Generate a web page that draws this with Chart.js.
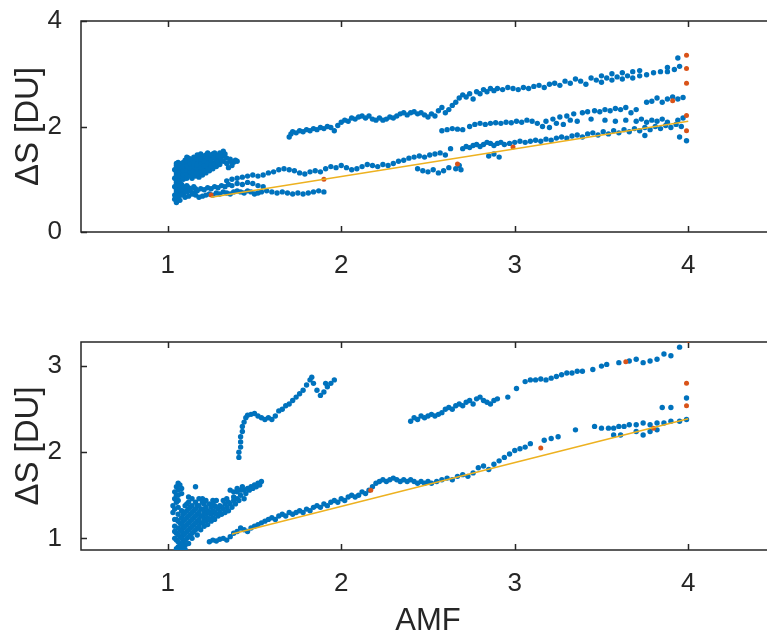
<!DOCTYPE html>
<html lang="en">
<head>
  <meta charset="UTF-8" />
  <title>Slant column difference vs AMF</title>
  <script src="https://cdn.jsdelivr.net/npm/chart.js"></script>
  <style>
    html, body { margin: 0; padding: 0; background: #fff; overflow: hidden; width: 767px; height: 637px; }
    .panel { position: absolute; left: 0; width: 800px; }
    #topPanel { top: 0; height: 300px; }
    #bottomPanel { top: 320px; height: 317px; }
  </style>
</head>
<body>
  <div class="panel" id="topPanel"><canvas id="topChart"></canvas></div>
  <div class="panel" id="bottomPanel"><canvas id="bottomChart"></canvas></div>

  <script>
    // ---- axis ticks ----
    const amfTicks = [1, 2, 3, 4];
    const topYTicks = [0, 2, 4];
    const bottomYTicks = [1, 2, 3];

    // ---- upper panel: [AMF, dS] ----
    const topCluster = [
      [1.04,0.62],[1.05,0.56],[1.04,0.70],[1.05,0.78],[1.04,0.86],[1.05,0.94],[1.04,1.02],[1.05,1.10],[1.04,1.18],[1.05,1.26],
      [1.06,1.32],[1.06,0.66],[1.06,0.84],[1.07,1.00],[1.07,1.16],[1.08,0.74],[1.08,0.90],[1.08,1.06],[1.08,1.22],[1.08,1.30],
      [1.10,0.80],[1.10,1.04],[1.10,1.12],[1.10,1.20],[1.10,1.28],[1.10,1.36],[1.12,0.84],[1.12,1.08],[1.12,1.16],[1.12,1.24],
      [1.12,1.32],[1.12,1.40],[1.14,1.02],[1.14,1.12],[1.14,1.20],[1.14,1.28],[1.14,1.36],[1.16,0.82],[1.16,1.06],[1.16,1.14],
      [1.16,1.22],[1.16,1.30],[1.16,1.40],[1.18,1.04],[1.18,1.10],[1.18,1.18],[1.18,1.26],[1.18,1.34],[1.18,1.44],[1.20,1.08],
      [1.20,1.16],[1.20,1.24],[1.20,1.32],[1.20,1.42],[1.22,1.12],[1.22,1.20],[1.22,1.28],[1.22,1.38],[1.22,1.46],[1.24,1.16],
      [1.24,1.24],[1.24,1.34],[1.24,1.44],[1.26,1.20],[1.26,1.30],[1.26,1.40],[1.26,1.48],[1.28,1.24],[1.28,1.36],[1.28,1.46],
      [1.30,1.28],[1.30,1.40],[1.30,1.50],[1.32,1.34],[1.32,1.44],[1.32,1.53],[1.34,1.30],[1.34,1.40],[1.36,1.34],[1.38,1.32],
      [1.40,1.34],[1.35,1.22],[1.37,1.26],
      [1.05,0.66],[1.05,0.74],[1.05,0.82],[1.05,0.90],[1.05,0.98],[1.05,1.06],[1.05,1.14],[1.05,1.22],[1.05,1.30],
      [1.07,0.60],[1.07,0.70],[1.07,0.80],[1.07,0.88],[1.07,0.96],[1.07,1.06],[1.07,1.12],[1.07,1.22],[1.07,1.28],
      [1.09,0.78],[1.09,0.86],[1.09,1.00],[1.09,1.08],[1.09,1.16],[1.09,1.24],[1.09,1.32],
      [1.11,0.80],[1.11,0.88],[1.11,1.02],[1.11,1.10],[1.11,1.18],[1.11,1.26],[1.11,1.34],[1.11,1.42],
      [1.13,0.82],[1.13,1.06],[1.13,1.14],[1.13,1.22],[1.13,1.30],[1.13,1.38],
      [1.15,0.86],[1.15,1.08],[1.15,1.16],[1.15,1.24],[1.15,1.32],[1.15,1.42],
      [1.17,1.12],[1.17,1.20],[1.17,1.28],[1.17,1.38],[1.17,1.46],
      [1.19,1.14],[1.19,1.22],[1.19,1.30],[1.19,1.38],[1.19,1.48],
      [1.21,1.16],[1.21,1.26],[1.21,1.34],[1.21,1.44],[1.23,1.20],[1.23,1.30],[1.23,1.40],[1.23,1.50],
      [1.25,1.26],[1.25,1.36],[1.25,1.46],[1.27,1.28],[1.27,1.42],[1.27,1.50],[1.29,1.32],[1.29,1.44],
      [1.31,1.36],[1.31,1.47],[1.33,1.48],[1.36,1.38],[1.39,1.36],
      [1.09,0.72],[1.11,0.76],[1.13,0.78],[1.15,0.74],[1.17,0.78],[1.19,0.82],[1.21,0.80],[1.23,0.84],[1.25,0.82],[1.27,0.86],
      [1.29,0.84],[1.31,0.88],[1.33,0.86],[1.35,0.90],[1.37,0.88],[1.40,0.92],[1.43,0.90],[1.46,0.94],[1.49,0.92],[1.52,0.88],[1.55,0.86]
    ];
    const topLowBand = [
      [1.08,0.70],[1.10,0.66],[1.12,0.68],[1.14,0.72],[1.16,0.70],[1.18,0.66],[1.20,0.68],[1.22,0.70],[1.24,0.72],[1.26,0.70],
      [1.28,0.74],[1.30,0.72],[1.32,0.76],[1.34,0.74],[1.36,0.72],[1.38,0.76],[1.40,0.78],[1.42,0.76],[1.44,0.74],[1.46,0.78],
      [1.48,0.76],[1.50,0.72],[1.52,0.74],[1.54,0.76],[1.57,0.78],[1.60,0.76],[1.63,0.74],[1.66,0.76],[1.69,0.74],[1.72,0.72],
      [1.75,0.74],[1.78,0.72],[1.81,0.74],[1.84,0.76],[1.87,0.78],[1.90,0.76]
    ];
    const topMidBand = [
      [1.34,0.97],[1.37,1.00],[1.40,1.02],[1.43,1.04],[1.46,1.06],[1.49,1.08],[1.52,1.06],[1.55,1.08],[1.58,1.12],[1.61,1.14],
      [1.64,1.18],[1.67,1.20],[1.70,1.18],[1.73,1.16],[1.76,1.12],[1.79,1.10],[1.82,1.14],[1.85,1.16],[1.88,1.14],[1.91,1.20],
      [1.94,1.24],[1.97,1.22],[2.00,1.26],[2.03,1.22],[2.06,1.18],[2.09,1.20],[2.12,1.24],[2.15,1.28],[2.18,1.26],[2.21,1.24],
      [2.24,1.28],[2.27,1.26],[2.30,1.30],[2.33,1.34],[2.36,1.36],[2.39,1.40],[2.42,1.42],[2.45,1.44],[2.48,1.42],[2.51,1.46],
      [2.54,1.48],[2.57,1.50],[2.60,1.46],[2.63,1.58],
      [2.44,1.20],[2.47,1.16],[2.50,1.14],[2.53,1.18],[2.56,1.12],[2.59,1.16],[2.62,1.22],[2.66,1.20],[2.68,1.26],[2.69,1.18],
      [2.70,1.58],[2.72,1.62],[2.74,1.60],[2.76,1.64],[2.78,1.66],[2.80,1.62],[2.82,1.66],[2.84,1.70],[2.86,1.68],[2.88,1.64],
      [2.90,1.68],[2.92,1.70],[2.94,1.66],[2.97,1.68],[3.00,1.70],[3.03,1.72],[3.06,1.70],[3.09,1.72],[3.12,1.74],[3.15,1.72],
      [3.18,1.76],[3.21,1.74],[3.24,1.78],[3.27,1.80],[3.30,1.78],[3.33,1.82],[3.36,1.84],[3.39,1.80],[3.42,1.86],[3.45,1.88],
      [3.48,1.84],[3.51,1.90],[3.54,1.86],[3.57,1.92],[3.60,1.88],[3.63,1.94],[3.66,1.90],[3.69,1.96],[3.72,1.92],[3.75,1.98],
      [3.78,1.94],[3.81,2.00],[3.84,1.96],[3.87,2.02],[3.90,1.98],[3.93,2.04],[3.96,2.00],
      [2.85,1.44],[2.88,1.48],[2.91,1.42],[3.75,1.83],[3.95,1.80],[3.99,1.73]
    ];
    const topUpperMidBand = [
      [2.58,1.92],[2.61,1.94],[2.64,1.96],[2.67,1.95],[2.70,1.94],[2.74,2.00],[2.77,2.04],[2.80,2.06],[2.83,2.04],[2.86,2.06],
      [2.89,2.07],[2.92,2.06],[2.95,2.08],[2.98,2.07],[3.01,2.10],[3.04,2.08],[3.07,2.12],[3.10,2.10],[3.13,2.06],[3.16,2.00],
      [3.18,2.10],[3.20,1.98],[3.22,2.14],[3.24,2.06],[3.26,2.18],[3.28,2.04],[3.30,2.20],[3.32,2.12],[3.34,2.24],[3.36,2.10],
      [3.39,2.26],[3.42,2.28],[3.44,2.14],[3.46,2.30],[3.49,2.28],[3.52,2.32],[3.52,2.12],[3.55,2.30],[3.58,2.34],[3.58,2.10],
      [3.61,2.32],[3.64,2.36],[3.64,2.12],[3.67,2.26],[3.70,2.32],[3.70,2.10],[3.73,2.14],[3.76,2.46],[3.76,2.08],[3.79,2.48],
      [3.79,2.12],[3.82,2.54],[3.82,2.10],[3.85,2.46],[3.85,2.14],[3.88,2.52],[3.88,2.08],[3.91,2.56],[3.94,2.52],[3.94,2.12],
      [3.97,2.55],[3.97,2.16]
    ];
    const topHighBand = [
      [1.70,1.80],[1.71,1.86],[1.72,1.90],[1.74,1.88],[1.76,1.92],[1.78,1.90],[1.80,1.94],[1.82,1.92],[1.84,1.96],[1.86,1.94],
      [1.88,1.98],[1.90,1.96],[1.92,2.00],[1.94,1.98],[1.96,1.92],[1.98,2.02],[2.00,2.08],[2.02,2.12],[2.04,2.10],[2.06,2.16],
      [2.08,2.14],[2.10,2.18],[2.12,2.20],[2.14,2.16],[2.16,2.20],[2.18,2.14],[2.20,2.12],[2.22,2.16],[2.24,2.12],[2.26,2.14],
      [2.28,2.18],[2.30,2.16],[2.32,2.20],[2.34,2.24],[2.36,2.26],[2.38,2.22],[2.40,2.26],[2.42,2.28],[2.44,2.24],[2.46,2.26],
      [2.48,2.22],[2.50,2.18],[2.52,2.24],[2.54,2.20],[2.56,2.30],[2.58,2.36],[2.60,2.26],[2.62,2.32],[2.64,2.40],[2.66,2.46],
      [2.68,2.54],[2.70,2.60],[2.72,2.56],[2.74,2.62],[2.76,2.52],[2.78,2.66],[2.80,2.62],[2.82,2.70],[2.84,2.66],[2.86,2.72],
      [2.88,2.68],[2.90,2.72],[2.93,2.70],[2.96,2.74],[2.99,2.72],[3.02,2.70],[3.05,2.74],[3.08,2.72],[3.11,2.76],[3.14,2.78],
      [3.17,2.74],[3.20,2.80],[3.23,2.82],[3.26,2.78],[3.29,2.86],[3.32,2.82],[3.35,2.90],[3.38,2.86],[3.41,2.80],[3.44,2.92],
      [3.47,2.88],[3.50,2.96],[3.50,2.84],[3.53,2.92],[3.56,3.00],[3.56,2.88],[3.59,2.94],[3.62,3.02],[3.62,2.90],[3.65,2.96],
      [3.68,3.04],[3.68,2.92],[3.72,3.06],[3.72,2.96],[3.76,2.98],[3.80,3.02],[3.84,3.04],[3.88,3.12],[3.88,3.04],[3.92,3.08],
      [3.94,3.30],[3.95,3.14]
    ];
    const topOutliers = [
      [1.25,0.70],[1.90,1.00],[2.67,1.29],[2.99,1.61],[3.91,2.49],
      [3.99,3.35],[3.99,3.10],[3.99,2.82],[3.99,2.21],[3.99,1.92]
    ];
    const topFit = [[1.25,0.66],[4.00,2.10]];

    // ---- lower panel: [AMF, dS] ----
    const bottomCluster = [
      [1.03,1.30],[1.03,1.38],[1.04,1.46],[1.04,1.54],[1.05,1.60],[1.06,1.64],[1.07,1.62],[1.08,1.58],[1.05,1.22],[1.04,1.14],
      [1.05,1.06],[1.05,0.98],[1.06,0.90],[1.07,0.94],[1.07,1.02],[1.07,1.10],[1.07,1.18],[1.06,1.50],[1.08,0.88],[1.09,0.96],
      [1.09,1.04],[1.09,1.12],[1.09,1.20],[1.09,1.28],[1.10,0.92],[1.11,1.00],[1.11,1.08],[1.11,1.16],[1.11,1.24],[1.11,1.32],
      [1.11,1.40],[1.12,0.94],[1.13,1.04],[1.13,1.12],[1.13,1.20],[1.13,1.28],[1.13,1.36],[1.14,1.00],[1.15,1.08],[1.15,1.16],
      [1.15,1.24],[1.15,1.32],[1.16,1.60],[1.17,1.04],[1.17,1.12],[1.17,1.20],[1.17,1.28],[1.17,1.38],[1.19,1.10],[1.19,1.18],
      [1.19,1.26],[1.19,1.34],[1.21,1.14],[1.21,1.22],[1.21,1.30],[1.21,1.40],[1.23,1.16],[1.23,1.24],[1.23,1.32],[1.25,1.20],
      [1.25,1.28],[1.25,1.36],[1.27,1.22],[1.27,1.30],[1.27,1.38],[1.29,1.26],[1.29,1.34],[1.31,1.28],[1.31,1.36],[1.33,1.30],
      [1.33,1.40],[1.35,1.32],[1.35,1.42],[1.37,1.36],[1.38,1.48],[1.39,1.40],[1.40,1.54],[1.41,1.44],[1.42,1.50],[1.44,1.56],
      [1.46,1.58],[1.48,1.60],[1.50,1.62],[1.52,1.64],[1.54,1.66],[1.44,1.46],[1.36,1.56],[1.38,1.54],[1.12,1.48],[1.20,1.46],
      [1.26,1.44],[1.05,0.88],[1.10,0.87],
      [1.04,1.00],[1.04,1.08],[1.04,1.22],[1.04,1.34],[1.05,1.42],[1.05,1.50],[1.06,0.96],[1.06,1.04],[1.06,1.12],[1.06,1.20],
      [1.06,1.28],[1.06,1.36],[1.06,1.44],[1.06,1.56],[1.08,0.92],[1.08,1.00],[1.08,1.08],[1.08,1.16],[1.08,1.24],[1.08,1.32],
      [1.08,1.52],[1.10,0.98],[1.10,1.06],[1.10,1.14],[1.10,1.22],[1.10,1.30],[1.10,1.38],[1.12,1.02],[1.12,1.10],[1.12,1.18],
      [1.12,1.26],[1.12,1.34],[1.12,1.42],[1.14,1.06],[1.14,1.14],[1.14,1.22],[1.14,1.30],[1.14,1.38],[1.14,1.46],[1.16,1.10],
      [1.16,1.18],[1.16,1.26],[1.16,1.34],[1.16,1.42],[1.18,1.14],[1.18,1.22],[1.18,1.30],[1.18,1.38],[1.18,1.46],[1.20,1.18],
      [1.20,1.26],[1.20,1.34],[1.20,1.42],[1.22,1.20],[1.22,1.28],[1.22,1.36],[1.22,1.44],[1.24,1.22],[1.24,1.30],[1.24,1.40],
      [1.26,1.24],[1.26,1.32],[1.26,1.40],[1.28,1.28],[1.28,1.36],[1.28,1.44],[1.30,1.30],[1.30,1.38],[1.32,1.34],[1.32,1.44],
      [1.34,1.36],[1.34,1.46],[1.36,1.40],[1.38,1.44],[1.40,1.46],[1.42,1.56],[1.45,1.52],[1.47,1.56],[1.49,1.58],[1.51,1.60],
      [1.53,1.62],[1.40,1.58],[1.43,1.60]
    ];
    const bottomLowBand = [
      [1.24,0.96],[1.26,0.98],[1.28,0.97],[1.30,0.99],[1.32,1.00],[1.34,0.98],[1.36,1.02],[1.38,1.06],[1.40,1.08],[1.42,1.12],
      [1.44,1.10],[1.46,1.08],[1.48,1.12],[1.50,1.14],[1.52,1.16],[1.54,1.18],[1.56,1.20],[1.58,1.22],[1.60,1.24],[1.62,1.22],
      [1.64,1.26],[1.66,1.28],[1.68,1.26],[1.70,1.30],[1.72,1.28],[1.74,1.30],[1.76,1.32],[1.78,1.30],[1.80,1.34],[1.82,1.32],
      [1.84,1.36],[1.86,1.38],[1.88,1.36],[1.90,1.40],[1.92,1.38],[1.94,1.42],[1.96,1.44],[1.98,1.42],[2.00,1.46],[2.02,1.44],
      [2.04,1.48],[2.06,1.50],[2.08,1.48],[2.10,1.50],[2.12,1.54],[2.14,1.52],[2.16,1.56],[2.18,1.60],[2.20,1.64],[2.22,1.66],
      [2.24,1.68],[2.26,1.66],[2.28,1.68],[2.30,1.70],[2.32,1.68],[2.34,1.66],[2.36,1.68],[2.38,1.66],[2.40,1.68],[2.42,1.66],
      [2.44,1.64],[2.46,1.66],[2.48,1.64],[2.50,1.66],[2.52,1.64],[2.55,1.66],[2.58,1.68],[2.61,1.70],[2.64,1.68],[2.67,1.72],
      [2.70,1.74],[2.73,1.72],[2.76,1.76],[2.79,1.82],[2.82,1.84],[2.85,1.80],[2.88,1.86],[2.91,1.90],[2.94,1.94],[2.97,1.98],
      [3.00,2.02],[3.03,2.04],[3.06,2.06],[3.09,2.10],[3.17,2.14],[3.21,2.16],[3.25,2.18],[3.35,2.26],[3.46,2.30],[3.50,2.28],
      [3.54,2.28],[3.57,2.28],[3.60,2.30],[3.63,2.30],[3.66,2.32],[3.57,2.20],[3.61,2.20],[3.70,2.32],[3.70,2.24],[3.74,2.34],
      [3.74,2.20],[3.78,2.32],[3.78,2.24],[3.82,2.34],[3.82,2.26],[3.86,2.34],[3.90,2.36],[3.95,2.36],[3.99,2.38],[3.85,2.52],
      [3.90,2.52],[3.99,2.63]
    ];
    const bottomSpike = [
      [1.41,1.94],[1.41,2.00],[1.42,2.06],[1.42,2.12],[1.42,2.18],[1.43,2.24],[1.43,2.30],[1.44,2.35],[1.45,2.40],[1.46,2.43],
      [1.48,2.44],[1.50,2.45],[1.52,2.42],[1.54,2.40],[1.56,2.38],[1.58,2.40],[1.60,2.38],[1.62,2.42],[1.64,2.48],[1.66,2.50],
      [1.68,2.54],[1.70,2.56],[1.72,2.60],[1.74,2.64],[1.76,2.68],[1.78,2.72],[1.80,2.78],[1.82,2.84],[1.83,2.87],[1.84,2.80],
      [1.86,2.72],[1.88,2.66],[1.90,2.70],[1.91,2.80],[1.92,2.76],[1.94,2.80],[1.96,2.84]
    ];
    const bottomHighBand = [
      [2.40,2.36],[2.42,2.40],[2.44,2.38],[2.46,2.42],[2.48,2.40],[2.50,2.42],[2.52,2.44],[2.54,2.42],[2.56,2.44],[2.58,2.46],
      [2.60,2.50],[2.62,2.52],[2.64,2.50],[2.66,2.54],[2.68,2.56],[2.70,2.54],[2.72,2.58],[2.74,2.60],[2.76,2.56],[2.78,2.62],
      [2.80,2.64],[2.82,2.60],[2.84,2.58],[2.86,2.56],[2.88,2.60],[2.90,2.62],[2.96,2.64],[3.01,2.74],[3.06,2.82],[3.09,2.84],
      [3.12,2.84],[3.15,2.85],[3.18,2.84],[3.21,2.86],[3.24,2.88],[3.27,2.90],[3.30,2.92],[3.33,2.92],[3.36,2.94],[3.39,2.94],
      [3.45,2.96],[3.50,3.00],[3.53,3.02],[3.60,3.04],[3.66,3.06],[3.70,3.08],[3.74,3.04],[3.78,3.06],[3.82,3.08],[3.86,3.14],
      [3.90,3.12],[3.95,3.22]
    ];
    const bottomOutliers = [
      [2.17,1.56],[3.15,2.05],[3.64,3.05],[3.80,2.28],[4.00,3.30],[3.99,2.80],[3.99,2.54]
    ];
    const bottomFit = [[1.37,1.05],[4.00,2.39]];

    const BLUE = '#0072BD', RED = '#D95319', GOLD = '#EDB120', INK = '#262626';
    const FONT = "'Liberation Sans', Arial, Helvetica, sans-serif";

    const pts = arr => arr.map(([x, y]) => ({ x, y }));

    // box around the axes plus inward ticks on all four sides
    const boxAxes = {
      id: 'boxAxes',
      beforeDatasetsDraw(chart) {
        const { ctx, chartArea: a, scales } = chart;
        ctx.save();
        ctx.strokeStyle = INK;
        ctx.lineWidth = 1.5;
        ctx.strokeRect(a.left, a.top, a.right - a.left, a.bottom - a.top);
        ctx.beginPath();
        scales.x.ticks.forEach(t => {
          const px = Math.round(scales.x.getPixelForValue(t.value)) + 0.5;
          ctx.moveTo(px, a.bottom); ctx.lineTo(px, a.bottom - 6);
          ctx.moveTo(px, a.top); ctx.lineTo(px, a.top + 6);
        });
        scales.y.ticks.forEach(t => {
          const py = Math.round(scales.y.getPixelForValue(t.value)) + 0.5;
          ctx.moveTo(a.left, py); ctx.lineTo(a.left + 6, py);
          ctx.moveTo(a.right, py); ctx.lineTo(a.right - 6, py);
        });
        ctx.stroke();
        ctx.restore();
      }
    };

    function makePanel(id, o) {
      return new Chart(document.getElementById(id), {
        type: 'scatter',
        data: {
          datasets: [
            { data: pts(o.fit), showLine: true, borderColor: GOLD, borderWidth: 1.5, pointRadius: 0, order: 0 },
            { data: pts(o.red), backgroundColor: RED, borderWidth: 0, pointRadius: 2.5, order: 1 },
            { data: pts(o.blue), backgroundColor: BLUE, borderWidth: 0, pointRadius: 2.7, order: 2 }
          ]
        },
        options: {
          responsive: true,
          maintainAspectRatio: false,
          animation: false,
          events: [],
          layout: { padding: { top: o.top, right: 25, left: 0, bottom: 0 } },
          plugins: { legend: { display: false }, tooltip: { enabled: false } },
          scales: {
            x: {
              type: 'linear', min: 0.5, max: 4.5,
              afterBuildTicks: s => { s.ticks = amfTicks.map(v => ({ value: v })); },
              afterFit: s => { s.height = o.xHeight; s.paddingLeft = 0; s.paddingRight = 0; },
              grid: { display: false }, border: { display: false },
              ticks: { color: INK, padding: 10, font: { family: FONT, size: 26 } },
              title: {
                display: !!o.xTitle, text: o.xTitle || '', color: INK,
                font: { family: FONT, size: 31, lineHeight: 1 }, padding: { top: 0, bottom: 0 }
              }
            },
            y: {
              type: 'linear', min: o.yMin, max: o.yMax,
              afterBuildTicks: s => { s.ticks = o.yTicks.map(v => ({ value: v })); },
              afterFit: s => { s.width = 81; s.paddingTop = 0; s.paddingBottom = 0; },
              grid: { display: false }, border: { display: false },
              ticks: { color: INK, padding: 11, font: { family: FONT, size: 26 } },
              title: {
                display: true, text: 'ΔS [DU]', color: INK,
                font: { family: FONT, size: 33, lineHeight: 1 }, padding: { top: 12, bottom: 0 }
              }
            }
          }
        },
        plugins: [boxAxes]
      });
    }

    makePanel('topChart', {
      blue: [...topCluster, ...topLowBand, ...topMidBand, ...topUpperMidBand, ...topHighBand],
      red: topOutliers, fit: topFit,
      yMin: 0, yMax: 4, yTicks: topYTicks, top: 21, xHeight: 68
    });

    makePanel('bottomChart', {
      blue: [...bottomCluster, ...bottomLowBand, ...bottomSpike, ...bottomHighBand],
      red: bottomOutliers, fit: bottomFit,
      yMin: 0.865, yMax: 3.28, yTicks: bottomYTicks, top: 22, xHeight: 87, xTitle: 'AMF'
    });
  </script>
</body>
</html>
